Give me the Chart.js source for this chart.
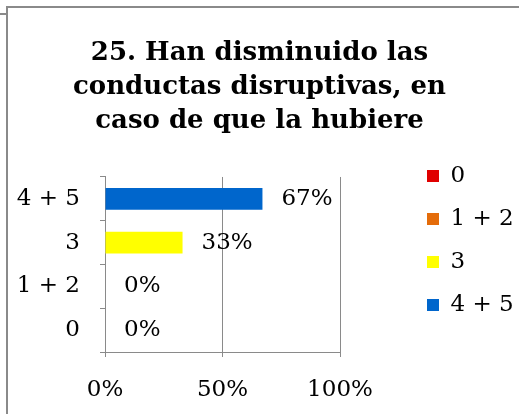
<!DOCTYPE html>
<html>
<head>
<meta charset="utf-8">
<script src="https://cdn.jsdelivr.net/npm/chart.js@4/dist/chart.umd.min.js"></script>
<style>
  html, body { margin: 0; padding: 0; background: #fff; }
  #wrap { position: relative; width: 519px; height: 414px; overflow: hidden; background: #fff; }
  #frame { position: absolute; left: 6px; top: 6px; width: 700px; height: 700px;
           border-left: 2px solid #8a8a8a; border-top: 2px solid #8a8a8a; }
  #seg { position: absolute; left: 0; top: 13px; width: 7px; height: 0; border-top: 2px solid #8a8a8a; }
  canvas { position: absolute; left: 0; top: 0; }
</style>
</head>
<body>
<div id="wrap">
  <div id="seg"></div>
  <div id="frame"></div>
  <canvas id="c" width="519" height="414"></canvas>
</div>
<script>
// ---- data ----
const titleLines = ['25. Han disminuido las', 'conductas disruptivas, en', 'caso de que la hubiere'];
const categories = ['0', '1 + 2', '3', '4 + 5'];
const values = [0, 0, 33, 67];
const barColors = ['#e00000', '#e46c0a', '#ffff00', '#0066cc'];
const xTickValues = [0, 50, 100];

const FONT = "'DejaVu Serif', 'Liberation Serif', serif";
const GRID = '#8a8a8a';

const valueLabels = {
  id: 'valueLabels',
  afterDatasetsDraw(chart) {
    const ctx = chart.ctx;
    const meta = chart.getDatasetMeta(0);
    ctx.save();
    ctx.font = '23px ' + FONT;
    ctx.fillStyle = '#000';
    ctx.textAlign = 'left';
    ctx.textBaseline = 'middle';
    meta.data.forEach((bar, i) => {
      ctx.fillText(values[i] + '%', bar.x + 19, bar.y);
    });
    ctx.restore();
  }
};

new Chart(document.getElementById('c'), {
  type: 'bar',
  data: {
    labels: categories,
    datasets: [{
      data: values,
      backgroundColor: barColors,
      borderWidth: 0,
      categoryPercentage: 1,
      barPercentage: 0.5
    }]
  },
  options: {
    responsive: false,
    animation: false,
    devicePixelRatio: 1,
    indexAxis: 'y',
    layout: { padding: { left: 0, right: 0, top: 0, bottom: 0 } },
    scales: {
      x: {
        min: xTickValues[0],
        max: xTickValues[xTickValues.length - 1],
        afterBuildTicks: s => { s.ticks = xTickValues.map(v => ({ value: v })); },
        afterFit: s => { s.height = 62; },
        grid: { color: GRID, lineWidth: 1, tickLength: 5, drawTicks: true },
        border: { display: true, color: GRID, width: 1 },
        ticks: {
          callback: v => v + '%',
          color: '#000',
          font: { family: FONT, size: 23 },
          padding: 19,
          maxRotation: 0
        }
      },
      y: {
        reverse: true,
        offset: true,
        afterFit: s => { s.width = 105; },
        grid: { display: true, drawOnChartArea: false, drawTicks: true, tickLength: 5, offset: true, color: GRID },
        border: { display: true, color: GRID, width: 1 },
        ticks: {
          color: '#000',
          font: { family: FONT, size: 23 },
          padding: 20
        }
      },
      gap: {
        type: 'linear',
        axis: 'y',
        position: 'right',
        display: true,
        afterFit: s => { s.width = 67; },
        grid: { display: false },
        border: { display: false },
        ticks: { display: false }
      }
    },
    plugins: {
      tooltip: { enabled: false },
      title: {
        display: true,
        text: titleLines,
        color: '#000',
        font: { family: FONT, size: 26, weight: 'bold', lineHeight: 1.31 },
        padding: { top: 36, bottom: 38.8 }
      },
      legend: {
        display: true,
        position: 'right',
        align: 'start',
        maxWidth: 112,
        title: { display: true, text: '', padding: { top: 132.5, bottom: 0 }, font: { size: 10 } },
        labels: {
          boxWidth: 12,
          boxHeight: 12,
          padding: 20,
          color: '#000',
          font: { family: FONT, size: 23 },
          generateLabels: () => categories.map((c, i) => ({
            text: c,
            fillStyle: barColors[i],
            strokeStyle: barColors[i],
            fontColor: '#000',
            lineWidth: 0,
            hidden: false,
            index: i
          }))
        }
      }
    }
  },
  plugins: [valueLabels]
});
</script>
</body>
</html>
